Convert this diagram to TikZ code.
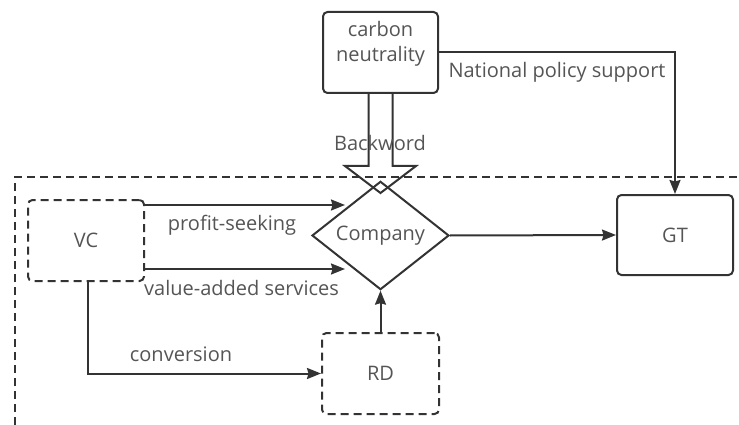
\documentclass[tikz,border=0pt]{standalone}
\usepackage{fontspec}
\setmainfont{Open Sans}
\usetikzlibrary{arrows.meta,shapes.geometric}
\definecolor{ln}{HTML}{333333}
\definecolor{tx}{HTML}{555555}
\begin{document}
\begin{tikzpicture}[x=1pt,y=-1pt,
  font=\fontsize{20}{25}\selectfont, text=tx,
  every node/.style={inner sep=0pt},
  solidbox/.style={draw=ln, line width=2pt, rounded corners=4.5pt, minimum width=116pt, minimum height=81pt},
  dashbox/.style={solidbox, dash pattern=on 8pt off 5pt},
  arr/.style={draw=ln, line width=2pt, -{Stealth[length=14pt,width=11pt,inset=1.5pt]}},
  plain/.style={draw=ln, line width=2pt},
  lbl/.style={text=tx}
]
\useasboundingbox (0,0) rectangle (739,425);

% outer dashed frame
\draw[plain, dash pattern=on 8pt off 5pt] (15,425) -- (15,177) -- (739,177);

% nodes
\node[solidbox, minimum width=115pt] (carbon) at (380.5,52.5) {};
\node[lbl, align=center] (carbontxt) at ([yshift=9pt]carbon.center) {carbon\\neutrality};
\node[dashbox] (VC) at (86,240.5) {VC};
\node[draw=ln, line width=2pt, shape=diamond, minimum width=137pt, minimum height=101pt] (Company) at (380.5,235.5) {Company};
\node[solidbox, minimum height=80pt] (GT) at (675,235) {GT};
\node[dashbox, minimum width=117pt] (RD) at (380.5,373.5) {RD};

% hollow "Backword" arrow
\draw[plain, line join=miter]
  ([xshift=-12pt]carbon.south) -- ++(0,72) -- ++(-23.5,0) -- ++(35.5,27) -- ++(35.5,-27) -- ++(-23.5,0) -- ([xshift=12pt]carbon.south);
\node[lbl] (backword) at (380,143) {Backword};

% connectors
\coordinate (ps) at (345,205);
\coordinate (va) at (345,269);
\draw[arr] (VC.east |- ps) -- (ps);
\draw[arr] (VC.east |- va) -- (va);
\draw[arr] ([xshift=2pt]VC.south) |- (RD.west);
\draw[arr] (RD.north) -- (Company.south);
\draw[arr] (Company.east) -- (GT.west);
\draw[arr] (carbon.east) -| (GT.north);

% labels
\node[lbl] (lps) at (232,225) {profit-seeking};
\node[lbl] (lva) at (241.5,288) {value-added services};
\node[lbl] (lconv) at (181,354) {conversion};
\node[lbl] (lnps) at (557,72) {National policy support};
\end{tikzpicture}
\end{document}
